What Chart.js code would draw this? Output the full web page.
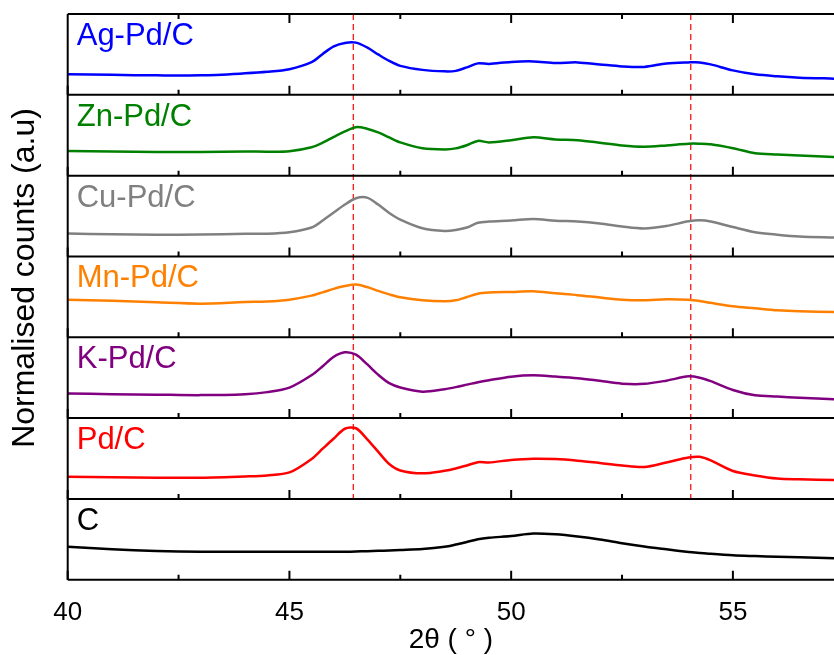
<!DOCTYPE html>
<html>
<head>
<meta charset="utf-8">
<script src="https://cdn.jsdelivr.net/npm/chart.js@4.4.1/dist/chart.umd.min.js"></script>
<style>
  html, body { margin: 0; padding: 0; background: #fff; overflow: hidden; }
  #wrap { width: 834px; height: 655px; }
</style>
</head>
<body>
<div id="wrap"><canvas id="xrdChart" width="834" height="655"></canvas></div>
<script>
// 2theta positions (deg) where the patterns were read
const twoTheta = [40, 41, 42, 43, 44, 44.5, 45, 45.5, 45.75, 46, 46.25, 46.5, 46.75, 47, 47.25, 47.5, 48, 48.5, 48.75, 49,
                  49.25, 49.5, 50, 50.5, 51, 51.5, 52, 52.5, 53, 53.5, 54, 54.25, 54.5, 55, 55.5, 56, 56.5, 57.3];

// normalised counts, one array per sample (each panel 0..81)
const agPd = [20.5, 20, 19.5, 19.5, 21.5, 23, 25.7, 32.7, 41, 48.5, 52, 52.3, 47.5, 40.5, 34, 29, 25, 23.5, 24, 27.5,
              31.5, 31, 33, 33.5, 32, 32.5, 30.5, 28.5, 28, 31.5, 32.5, 32.5, 30.5, 24.5, 20.5, 18.5, 17.2, 16.2];
const znPd = [24.6, 24.3, 23.8, 23.6, 24.3, 24, 24.5, 28.5, 33, 38.8, 44.3, 48.6, 47, 43.3, 38.3, 33.3, 27.5, 26.3, 27.3, 30.5,
              34.8, 33.3, 35.5, 38.4, 36.3, 35.5, 33, 30.2, 29, 30.3, 32, 32, 31.4, 27.5, 22.5, 21.2, 20.2, 18.6];
const cuPd = [22.9, 22.3, 21.7, 22, 22.7, 22.7, 24.2, 29, 36, 44, 52, 58.3, 59, 52, 43.6, 37, 28.3, 25.5, 26.5, 29,
              33.8, 35, 36, 37.6, 35.8, 35, 33, 30, 28, 30.5, 35.2, 36.2, 35, 29.5, 24.3, 21.8, 20, 18.9];
const mnPd = [37.7, 36.5, 35, 33.7, 35.3, 35.8, 37.7, 41.7, 45, 48.5, 51.3, 52.8, 50.3, 46.5, 43, 40, 37, 36, 37, 40.3,
              43.7, 44.8, 45.4, 46, 44, 42.2, 39.8, 37.6, 37, 38, 37.5, 36.3, 34.5, 31, 29, 27, 26, 25.3];
const kPd  = [24.7, 24, 23.5, 23, 24, 26, 30.5, 43, 52, 61.5, 66, 63.5, 54, 43.5, 35, 30.7, 26.5, 29, 31, 33.5,
              36, 38, 41.5, 42.8, 41.6, 40, 37.3, 34.5, 34.3, 37.5, 41.8, 40.5, 37, 28.2, 22.8, 21.5, 20.4, 18.7];
const pdC  = [22.1, 21.7, 21.3, 21.3, 22.5, 23.5, 26.5, 40, 50.3, 60.5, 70.3, 70.8, 60, 47.3, 35, 28.5, 25.6, 28.1, 30.4, 33.5,
              36.8, 36.5, 39, 40.3, 39.9, 38.3, 36, 33.5, 32, 36.5, 41.5, 42.2, 38.6, 28, 23.5, 20.4, 19.6, 18.8];
const carbon = [33, 30.5, 28.8, 28, 28, 28, 28, 28, 28, 28, 28, 28.2, 28.6, 28.9, 29.3, 29.7, 30.7, 33, 35.2, 37.8,
                40.5, 42, 43.8, 46.3, 45.5, 43.3, 40.3, 36.6, 33.3, 30.5, 27.8, 26.8, 25.9, 24.5, 23.7, 23, 22.4, 21.4];

const sampleNames = ['Ag-Pd/C', 'Zn-Pd/C', 'Cu-Pd/C', 'Mn-Pd/C', 'K-Pd/C', 'Pd/C', 'C'];
const sampleData = [agPd, znPd, cuPd, mnPd, kPd, pdC, carbon];
const sampleColors = ['#0000ff', '#008000', '#808080', '#ff8000', '#800080', '#ff0000', '#000000'];

// Pd reflections marked with dashed lines
const refLines = [46.44, 54.05];
const majorTicks = [40, 45, 50, 55];
const minorTicks = [42.5, 47.5, 52.5];

const FONT = "'Liberation Sans', Arial, sans-serif";
Chart.defaults.font.family = FONT;

const axisIds = sampleNames.map((n, i) => 'y' + i);

// stacked y axes: defined bottom panel first so the first sample ends on top
const scales = {
    x: {
        type: 'linear',
        min: 40,
        max: 57.28,
        grid: { display: false },
        border: { display: false },
        afterBuildTicks: s => { s.ticks = majorTicks.map(v => ({ value: v })); },
        afterFit: s => { s.height = 75.3; },
        ticks: { color: '#000', font: { size: 26 }, padding: 10, maxRotation: 0 },
        title: { display: true, text: '2θ ( ° )', color: '#000', font: { size: 28, lineHeight: 1 }, padding: { top: 0, bottom: 1 } }
    }
};
for (let i = axisIds.length - 1; i >= 0; i--) {
    scales[axisIds[i]] = {
        type: 'linear',
        display: false,
        position: 'left',
        stack: 'panels',
        stackWeight: 1,
        min: 0,
        max: 81
    };
}

const framePlugin = {
    id: 'frame',
    beforeDatasetsDraw(chart) {
        const { ctx, chartArea, scales } = chart;
        const pdAxis = scales[axisIds[5]];
        ctx.save();
        ctx.strokeStyle = '#ff0000';
        ctx.lineWidth = 1.2;
        ctx.setLineDash([6, 4]);
        refLines.forEach(v => {
            const px = scales.x.getPixelForValue(v);
            ctx.beginPath();
            ctx.moveTo(px, chartArea.top);
            ctx.lineTo(px, pdAxis.bottom);
            ctx.stroke();
        });
        ctx.restore();
    },
    afterDatasetsDraw(chart) {
        const { ctx, chartArea, scales } = chart;
        const x = scales.x;
        ctx.save();
        ctx.strokeStyle = '#000';
        ctx.lineWidth = 2;
        // top frame with inward ticks
        ctx.beginPath();
        ctx.moveTo(chartArea.left, chartArea.top);
        ctx.lineTo(chartArea.right, chartArea.top);
        majorTicks.forEach(v => { const p = x.getPixelForValue(v); ctx.moveTo(p, chartArea.top); ctx.lineTo(p, chartArea.top + 9); });
        minorTicks.forEach(v => { const p = x.getPixelForValue(v); ctx.moveTo(p, chartArea.top); ctx.lineTo(p, chartArea.top + 5); });
        // left axis
        ctx.moveTo(chartArea.left, chartArea.top);
        ctx.lineTo(chartArea.left, chartArea.bottom);
        ctx.stroke();
        axisIds.forEach((id, i) => {
            const ax = scales[id];
            const b = ax.bottom;
            ctx.beginPath();
            ctx.moveTo(chartArea.left, b);
            ctx.lineTo(chartArea.right, b);
            majorTicks.forEach(v => { const p = x.getPixelForValue(v); ctx.moveTo(p, b); ctx.lineTo(p, b - 9); });
            minorTicks.forEach(v => { const p = x.getPixelForValue(v); ctx.moveTo(p, b); ctx.lineTo(p, b - 5); });
            ctx.stroke();
            ctx.fillStyle = sampleColors[i];
            ctx.font = '31px ' + FONT;
            ctx.textAlign = 'left';
            ctx.textBaseline = 'alphabetic';
            ctx.fillText(sampleNames[i], chartArea.left + 9, ax.top + 31);
        });
        ctx.restore();
    },
    afterDraw(chart) {
        const { ctx } = chart;
        ctx.save();
        ctx.translate(25, 278);
        ctx.rotate(-Math.PI / 2);
        ctx.fillStyle = '#000';
        ctx.font = '32px ' + FONT;
        ctx.textAlign = 'center';
        ctx.textBaseline = 'middle';
        ctx.fillText('Normalised counts (a.u)', 0, 0);
        ctx.restore();
    }
};

const ctx = document.getElementById('xrdChart').getContext('2d');
const xrdChart = new Chart(ctx, {
    type: 'line',
    data: {
        datasets: sampleNames.map((name, i) => ({
            label: name,
            data: twoTheta.map((t, j) => ({ x: t, y: sampleData[i][j] })),
            yAxisID: axisIds[i],
            borderColor: sampleColors[i],
            borderWidth: 2.5,
            pointRadius: 0,
            tension: 0.3
        }))
    },
    options: {
        responsive: false,
        animation: false,
        devicePixelRatio: 1,
        layout: { padding: { left: 67.7, top: 14, right: 0, bottom: 0 } },
        plugins: { legend: { display: false }, tooltip: { enabled: false } },
        scales: scales
    },
    plugins: [framePlugin]
});
</script>
</body>
</html>
